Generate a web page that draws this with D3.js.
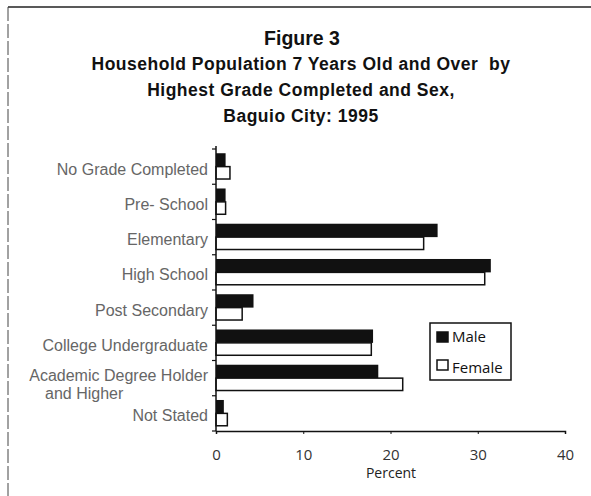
<!DOCTYPE html>
<html>
<head>
<meta charset="utf-8">
<script src="https://cdn.jsdelivr.net/npm/d3@7"></script>
<style>
  body { margin: 0; background: #fff; }
  svg { display: block; font-family: "Liberation Sans", Arial, sans-serif; }
</style>
</head>
<body>
<div id="chart"></div>
<script>
// values
let categories = ['No Grade Completed', 'Pre- School', 'Elementary', 'High School',
    'Post Secondary', 'College Undergraduate', 'Academic Degree Holder|and Higher', 'Not Stated'];
let male = [1.1, 1.1, 25.4, 31.5, 4.3, 18.0, 18.6, 0.9];
let female = [1.6, 1.1, 23.8, 30.8, 3.0, 17.8, 21.4, 1.3];
let xTicks = [0, 10, 20, 30, 40];
let titleLines = ['Household Population 7 Years Old and Over  by',
    'Highest Grade Completed and Sex,', 'Baguio City: 1995'];

let width = 591, height = 496;

let svg = d3.select('#chart').append('svg')
    .attr('width', width)
    .attr('height', height);

// frame of the scanned page
svg.append('line').attr('x1', 8).attr('y1', 7).attr('x2', width).attr('y2', 7)
    .attr('stroke', '#222').attr('stroke-width', 1.5);
svg.append('line').attr('x1', 8).attr('y1', 7).attr('x2', 8).attr('y2', height)
    .attr('stroke', '#444').attr('stroke-width', 1).attr('stroke-dasharray', '14,3');

// titles
svg.append('text').text('Figure 3')
    .attr('x', 302).attr('y', 45)
    .attr('text-anchor', 'middle')
    .attr('font-size', 19.5).attr('font-weight', 'bold').attr('fill', '#111');

svg.selectAll('.sub').data(titleLines).enter()
    .append('text').attr('class', 'sub')
    .text(d => d)
    .attr('x', 301)
    .attr('y', (d, i) => 70 + i * 25.8)
    .attr('text-anchor', 'middle')
    .style('white-space', 'pre')
    .attr('letter-spacing', 0.5)
    .attr('font-size', 17.5).attr('font-weight', 'bold').attr('fill', '#111');

// scales
let x = d3.scaleLinear().domain([0, 40]).range([216, 565]);
let y = d3.scaleBand().domain(categories).range([149, 431]).paddingInner(0.24).paddingOuter(0.12);
let sub = d3.scaleBand().domain(['Male', 'Female']).range([0, y.bandwidth()]);

let rows = categories.map((c, i) => ({cat: c, Male: male[i], Female: female[i]}));

let g = svg.append('g');
rows.forEach(r => {
    g.append('rect')
        .attr('x', x(0))
        .attr('y', y(r.cat) + sub('Male'))
        .attr('width', x(r.Male) - x(0))
        .attr('height', sub.bandwidth())
        .attr('fill', '#111');
    g.append('rect')
        .attr('x', x(0))
        .attr('y', y(r.cat) + sub('Female'))
        .attr('width', x(r.Female) - x(0))
        .attr('height', sub.bandwidth() - 1)
        .attr('fill', '#fff')
        .attr('stroke', '#111')
        .attr('stroke-width', 1.5);
});

// category axis line with ticks between the categories
let yRange = y.range();
svg.append('line').attr('x1', x(0)).attr('x2', x(0))
    .attr('y1', yRange[0] - 3).attr('y2', yRange[1])
    .attr('stroke', '#111').attr('stroke-width', 1.5);
d3.range(categories.length + 1).forEach(i => {
    let yy = yRange[0] + i * (yRange[1] - yRange[0]) / categories.length;
    svg.append('line').attr('x1', x(0) - 4).attr('x2', x(0))
        .attr('y1', yy).attr('y2', yy)
        .attr('stroke', '#111').attr('stroke-width', 1.2);
});

// category labels
rows.forEach(r => {
    let parts = r.cat.split('|');
    let cy = y(r.cat) + y.bandwidth() / 2;
    svg.append('text').text(parts[0])
        .attr('x', 208).attr('y', cy + (parts.length === 1 ? 8 : 3))
        .attr('text-anchor', 'end')
        .attr('font-size', 16)
        .attr('fill', '#666');
    if (parts.length > 1) {
        svg.append('text').text(parts[1])
            .attr('x', 45).attr('y', cy + 21)
            .attr('font-size', 16).attr('fill', '#666');
    }
});

// percent axis
let xAxis = svg.append('g')
    .attr('transform', 'translate(0,' + yRange[1] + ')')
    .call(d3.axisBottom(x).tickValues(xTicks).tickSize(3).tickPadding(15));
xAxis.select('.domain').attr('stroke', '#111').attr('stroke-width', 1.5);
xAxis.selectAll('.tick line').attr('stroke', '#111');
xAxis.selectAll('.tick text')
    .attr('font-size', 15).attr('fill', '#333')
    .attr('font-family', '"Open Sans", sans-serif');

svg.append('text').text('Percent')
    .attr('x', 391).attr('y', 478)
    .attr('text-anchor', 'middle')
    .attr('font-size', 14).attr('fill', '#222')
    .attr('font-family', '"Open Sans", sans-serif');

// legend
let legend = svg.append('g').attr('transform', 'translate(430,323)');
legend.append('rect').attr('width', 81).attr('height', 57)
    .attr('fill', '#fff').attr('stroke', '#111').attr('stroke-width', 1.5);
['Male', 'Female'].forEach((k, i) => {
    legend.append('rect')
        .attr('x', 7).attr('y', 9 + i * 28)
        .attr('width', 11).attr('height', 10)
        .attr('fill', k === 'Male' ? '#111' : '#fff')
        .attr('stroke', '#111').attr('stroke-width', 1.5);
    legend.append('text').text(k)
        .attr('x', 22).attr('y', 19 + i * 31)
        .attr('font-size', 15).attr('fill', '#111')
        .attr('font-family', '"Open Sans", sans-serif');
});
</script>
</body>
</html>
